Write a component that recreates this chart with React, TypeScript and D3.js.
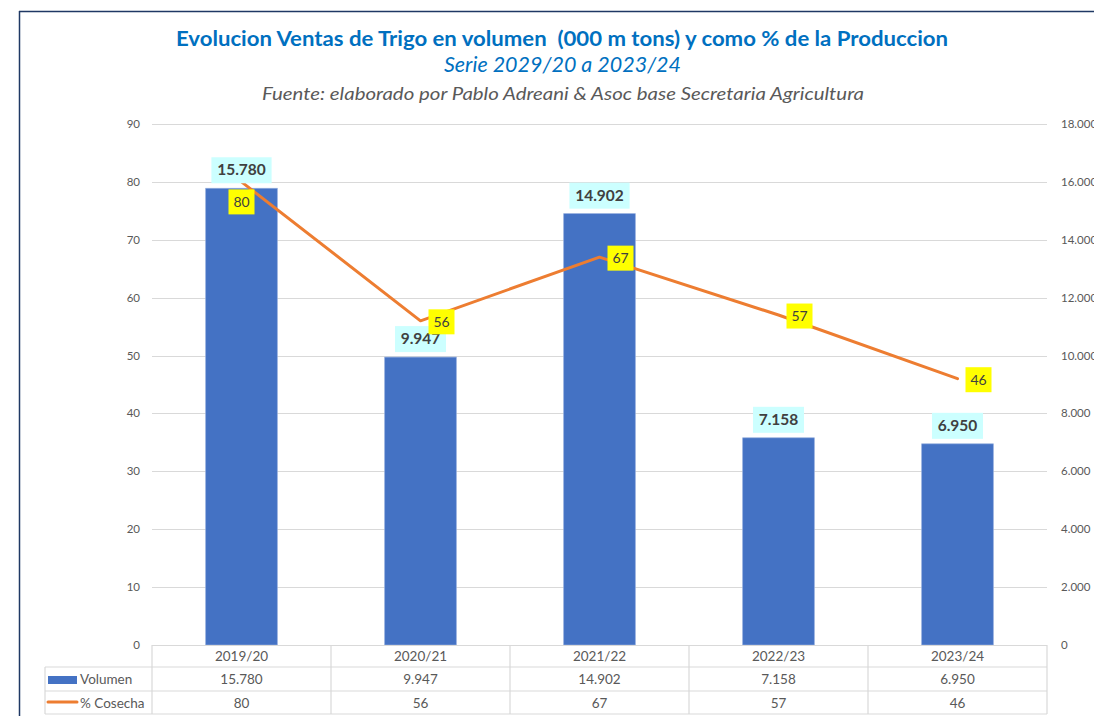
import React from "react";
import * as d3 from "d3";

const categories = ["2019/20", "2020/21", "2021/22", "2022/23", "2023/24"];
const volumen = [15780, 9947, 14902, 7158, 6950];
const cosecha = [80, 56, 67, 57, 46];
const leftTicks = [0, 10, 20, 30, 40, 50, 60, 70, 80, 90];
const rightTicks = [0, 2000, 4000, 6000, 8000, 10000, 12000, 14000, 16000, 18000];

const fmt = (v: number) => (v === 0 ? "0" : d3.format(",.0f")(v).replace(/,/g, "."));

export default function App() {
  const W = 1094, H = 716;
  const left = 152, right = 1047, top = 124, bottom = 645;
  const x = d3.scaleBand().domain(categories).range([left, right]).paddingInner(0.6).paddingOuter(0.3);
  const xCol = d3.scaleBand().domain(categories).range([left, right]);
  const yL = d3.scaleLinear().domain([0, 90]).range([bottom, top]);
  const yR = d3.scaleLinear().domain([0, 18000]).range([bottom, top]);
  const line = d3.line<number>().x((_, i) => (xCol(categories[i]) as number) + xCol.bandwidth() / 2).y((d) => yL(d));
  const font = "Lato, 'Open Sans', sans-serif";
  const grey = "#595959";
  const rowH = [645, 667, 691, 714];
  const legendLeft = 45;

  return (
    <div style={{ position: "absolute", left: 0, top: 0 }}>
      <svg width={W} height={H} style={{ display: "block", background: "#fff" }} fontFamily={font}>
        <rect x={0} y={0} width={W} height={H} fill="#fff" />
        {/* frame */}
        <line x1={19.5} y1={11} x2={19.5} y2={H} stroke="#1F3864" strokeWidth={1.5} />
        <line x1={19} y1={11.5} x2={W} y2={11.5} stroke="#1F3864" strokeWidth={1.5} />

        {/* titles */}
        <text x={176} y={46} fontSize={21} fontWeight="bold" fill="#0070C0" textLength={772} lengthAdjust="spacingAndGlyphs" style={{ whiteSpace: "pre" }}>
          {"Evolucion Ventas de Trigo en volumen  (000 m tons) y como % de la Produccion"}
        </text>
        <text x={444} y={72} fontSize={20.5} fontStyle="italic" fill="#0070C0" textLength={237} lengthAdjust="spacingAndGlyphs">
          Serie 2029/20 a 2023/24
        </text>
        <text x={262} y={100} fontSize={18} fontStyle="italic" fill={grey} textLength={602} lengthAdjust="spacingAndGlyphs">
          Fuente: elaborado por Pablo Adreani &amp; Asoc base Secretaria Agricultura
        </text>

        {/* gridlines */}
        {leftTicks.map((t) => (
          <line key={"g" + t} x1={left} x2={right} y1={Math.round(yL(t)) + 0.5} y2={Math.round(yL(t)) + 0.5} stroke="#D9D9D9" strokeWidth={1} />
        ))}
        {/* left axis labels */}
        {leftTicks.map((t) => (
          <text key={"l" + t} x={140} y={yL(t) + 4} textAnchor="end" fontSize={11.5} fill={grey}>
            {t}
          </text>
        ))}
        {/* right axis labels */}
        {rightTicks.map((t) => (
          <text key={"r" + t} x={1061} y={yR(t) + 4} textAnchor="start" fontSize={11.5} fill={grey}>
            {fmt(t)}
          </text>
        ))}

        {/* bars */}
        {volumen.map((v, i) => (
          <rect key={"b" + i} x={x(categories[i])} y={yR(v)} width={x.bandwidth()} height={bottom - yR(v)} fill="#4472C4" stroke="#8FAADC" strokeWidth={0.7} />
        ))}

        {/* line */}
        <path d={line(cosecha) || ""} fill="none" stroke="#ED7D31" strokeWidth={3} strokeLinejoin="round" strokeLinecap="round" />

        {/* bar labels */}
        {volumen.map((v, i) => {
          const cx = (x(categories[i]) as number) + x.bandwidth() / 2;
          const s = fmt(v);
          const w = s.length * 9.2 + 5;
          const by = yR(v) - 5;
          return (
            <g key={"bl" + i}>
              <rect x={cx - w / 2} y={by - 26} width={w} height={26} fill="#CCFFFF" />
              <text x={cx} y={by - 8} textAnchor="middle" fontSize={15.5} fontWeight="bold" fill="#404040">
                {s}
              </text>
            </g>
          );
        })}

        {/* line labels */}
        {cosecha.map((v, i) => {
          const px = (xCol(categories[i]) as number) + xCol.bandwidth() / 2;
          const py = yL(v);
          const cx = i === 0 ? px : px + 21;
          const cy = i === 0 ? py + 20 : py + 1;
          return (
            <g key={"ll" + i}>
              <rect x={cx - 13} y={cy - 12.5} width={26} height={25} fill="#FFFF00" />
              <text x={cx} y={cy + 5} textAnchor="middle" fontSize={14} fill="#404040">
                {v}
              </text>
            </g>
          );
        })}

        {/* data table */}
        <g stroke="#D9D9D9" strokeWidth={1.2}>
          <line x1={left} x2={right} y1={rowH[0] + 0.5} y2={rowH[0] + 0.5} />
          <line x1={legendLeft} x2={right} y1={rowH[1]} y2={rowH[1]} />
          <line x1={legendLeft} x2={right} y1={rowH[2]} y2={rowH[2]} />
          <line x1={legendLeft} x2={right} y1={rowH[3]} y2={rowH[3]} />
          <line x1={legendLeft} x2={legendLeft} y1={rowH[1]} y2={rowH[3]} />
          {categories.map((c) => (
            <line key={"v" + c} x1={xCol(c)} x2={xCol(c)} y1={rowH[0]} y2={rowH[3]} />
          ))}
          <line x1={right} x2={right} y1={rowH[0]} y2={rowH[3]} />
        </g>
        {categories.map((c, i) => {
          const cx = (xCol(c) as number) + xCol.bandwidth() / 2;
          return (
            <g key={"t" + c} fontSize={13.5} fill={grey} textAnchor="middle">
              <text x={cx} y={661}>{c}</text>
              <text x={cx} y={684}>{fmt(volumen[i])}</text>
              <text x={cx} y={708}>{cosecha[i]}</text>
            </g>
          );
        })}
        {/* legend keys */}
        <rect x={48} y={676} width={29} height={8} fill="#4472C4" />
        <line x1={48} x2={77} y1={702} y2={702} stroke="#ED7D31" strokeWidth={3} strokeLinecap="round" />
        <text x={80} y={684} fontSize={13.5} fill={grey}>Volumen</text>
        <text x={80} y={708} fontSize={13.5} fill={grey}>% Cosecha</text>
      </svg>
    </div>
  );
}
